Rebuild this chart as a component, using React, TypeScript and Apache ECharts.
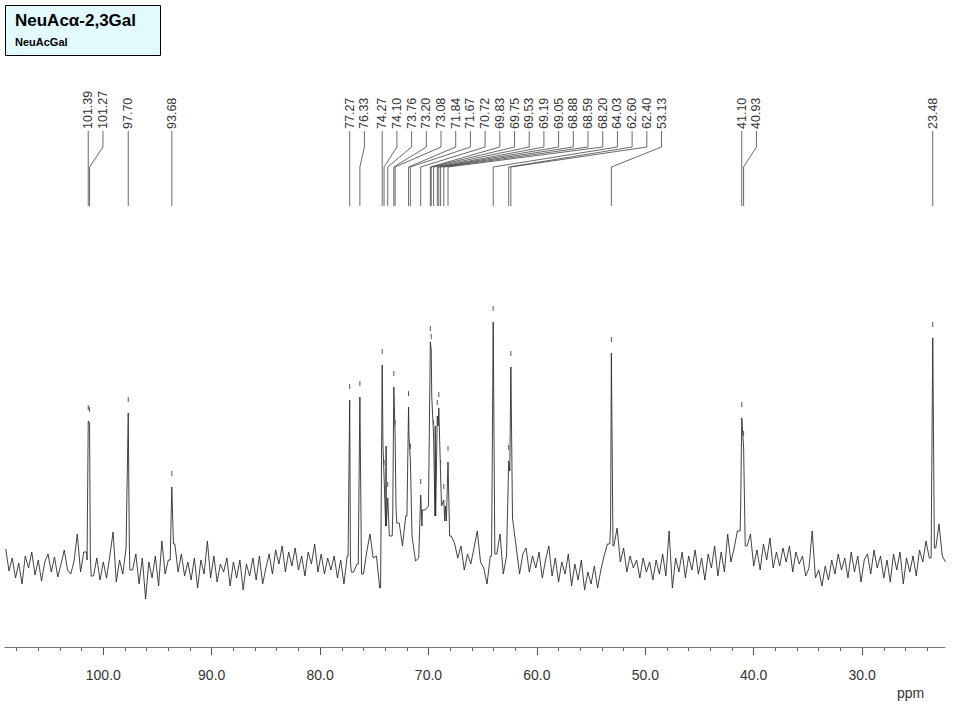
import React, { useRef, useEffect } from 'react';
import * as echarts from 'echarts';

// picked peaks: shift (ppm) and height above the baseline
const PEAK_PPM = [
  101.39, 101.27, 97.70, 93.68, 77.27, 76.33, 74.27, 74.10, 73.76, 73.20,
  73.08, 71.84, 71.67, 70.72, 69.83, 69.75, 69.53, 69.19, 69.05, 68.88,
  68.59, 68.20, 64.03, 62.60, 62.40, 53.13, 41.10, 40.93, 23.48,
];
const PEAK_HEIGHT = [
  145, 143, 153, 79, 166, 169, 201, 90, 68, 179,
  130, 159, 106, 71, 224, 216, 130, 150, 158, 90,
  66, 104, 244, 105, 199, 213, 148, 119, 228,
];

// baseline trace, one value every 0.3 ppm from 109.0 ppm downwards
const NOISE_START = 109.0;
const NOISE_STEP = 0.3;
const NOISE = [
  17, -5, 8, -12, 3, -18, 10, -2, 14, -9, 6, -15, 4, 12, -6, 9, -11, 2, 16, -4,
  -8, 5, 32, -6, 14, 6, 12, -10, 8, -14, 4, -12, 10, 34, -16, 6, -8, 18, 20, -4,
  12, -18, 8, -33, 4, -12, 10, -20, 25, -8, 6, 10, 22, -6, 12, -10, 4, -14, 8, -22,
  6, -8, 25, -12, 10, -16, 2, -6, 8, -20, 4, -12, 6, -24, 2, -10, 8, -14, 10, -18,
  -2, 12, -8, 16, 2, 20, -6, 14, 0, 18, -4, 10, -10, 14, 2, 22, -6, 12, -8, 8,
  -4, 10, -12, 6, -18, 10, 4, -6, 2, 8, -8, 14, 32, 8, 10, -22, 120, 40, 30, 50,
  60, 43, 20, 50, 130, 30, 5, 8, 40, 56, 60, 170, 50, 140, 60, 45, 60, 30, 23, 8,
  20, -4, 12, 2, 18, 35, 4, -2, -18, 10, 30, 12, 32, -8, 10, 95, 48, 18, -8, 12,
  18, -6, 10, -2, 14, -12, 6, 20, -10, 8, -16, 4, -8, 12, -20, 2, -14, 6, -24, -6,
  -18, 0, -22, -4, 10, 22, 40, 20, 38, 4, 18, -6, 10, -2, 6, -12, 8, -6, 4, -14,
  6, -8, 12, -10, 35, -22, 8, -6, 14, -12, 10, -4, 16, -8, 8, -14, 12, -2, 20, -10,
  14, -6, 32, 4, 18, 35, 60, 60, 20, 32, 0, 16, -4, 22, 6, 28, -2, 14, 0, 18,
  4, 20, -6, 14, 2, 10, -10, -2, 35, -12, -4, -20, 0, -14, 6, -8, 12, -4, 8, -12,
  14, -6, 10, -16, 6, 12, -8, 16, -2, 10, -12, 6, -16, 12, -4, 14, -18, 8, -6, 10,
  -10, 16, 4, 25, 8, 30, 18, 42, 10, 4,
];

const MAJOR_TICKS = [30, 40, 50, 60, 70, 80, 90, 100];
const MINOR_TICKS = [
  24, 26, 28, 32, 34, 36, 38, 42, 44, 46, 48, 52, 54, 56, 58, 62, 64, 66, 68,
  72, 74, 76, 78, 82, 84, 86, 88, 92, 94, 96, 98, 102, 104, 106, 108,
];

const X_MIN = 22.35;
const X_MAX = 109.07;
const FONT = 'Liberation Sans, Arial, sans-serif';
const LABEL_GAP = 14.7;
const FOOT = 0.15; // half width of a line at its base, ppm

function buildSpectrum() {
  const pts: number[][] = [];
  NOISE.forEach((v, i) => {
    const ppm = +(NOISE_START - i * NOISE_STEP).toFixed(2);
    if (PEAK_PPM.some((p) => Math.abs(p - ppm) < 0.04)) return;
    pts.push([ppm, v]);
  });
  PEAK_PPM.forEach((p, i) => {
    pts.push([p, PEAK_HEIGHT[i]]);
    // narrow foot on each free side, level with the nearest baseline sample outside it
    [1, -1].forEach((dir) => {
      if (PEAK_PPM.some((q) => q !== p && (q - p) * dir > 0 && (q - p) * dir <= 0.3)) return;
      const fp = p + dir * FOOT;
      const pos = (NOISE_START - fp) / NOISE_STEP;
      const idx = dir > 0 ? Math.floor(pos) : Math.ceil(pos);
      if (idx < 0 || idx >= NOISE.length) return;
      pts.push([fp, NOISE[idx]]);
    });
  });
  pts.sort((a, b) => b[0] - a[0]);
  return pts;
}

// peak-pick annotations: rotated labels, leader lines, small markers above each peak
function renderPeakLabels(_params: any, api: any) {
  const xs = PEAK_PPM.map((p) => api.coord([p, 0])[0]);
  const children: any[] = [];
  let prev = -Infinity;
  PEAK_PPM.forEach((p, i) => {
    const px = xs[i];
    const lx = Math.max(px, prev + LABEL_GAP);
    prev = lx;
    children.push({
      type: 'polyline',
      shape: { points: [[lx, 131], [lx, 147], [px, 167], [px, 206]] },
      style: { stroke: '#444', lineWidth: 0.8, fill: 'none' },
    });
    children.push({
      type: 'text',
      x: lx,
      y: 129,
      rotation: Math.PI / 2,
      style: {
        text: p.toFixed(2),
        fill: '#333',
        fontSize: 12.5,
        fontFamily: FONT,
        align: 'left',
        verticalAlign: 'middle',
      },
    });
    const top = api.coord([p, PEAK_HEIGHT[i]])[1];
    children.push({
      type: 'line',
      shape: { x1: px, y1: top - 16, x2: px, y2: top - 11 },
      style: { stroke: '#555', lineWidth: 1 },
    });
  });
  return { type: 'group', children };
}

const App: React.FC = () => {
  const chartRef = useRef<HTMLDivElement>(null);

  useEffect(() => {
    if (!chartRef.current) return;
    const chart = echarts.init(chartRef.current, null, { renderer: 'svg' });

    chart.setOption({
      animation: false,
      grid: { left: 5, right: 15, top: 206, bottom: 73, containLabel: false, outerBoundsMode: 'none' },
      xAxis: [
        {
          type: 'value',
          min: X_MIN,
          max: X_MAX,
          inverse: true,
          position: 'bottom',
          axisLine: { show: true, onZero: false, lineStyle: { color: '#777', width: 1 } },
          axisTick: { show: true, customValues: MAJOR_TICKS, length: 8, lineStyle: { color: '#555' } },
          axisLabel: {
            customValues: MAJOR_TICKS,
            formatter: (v: number) => v.toFixed(1),
            margin: 21,
            fontSize: 14,
            fontFamily: FONT,
            color: '#333',
          },
          splitLine: { show: false },
        },
        {
          type: 'value',
          min: X_MIN,
          max: X_MAX,
          inverse: true,
          position: 'bottom',
          axisLine: { show: false, onZero: false },
          axisTick: { show: true, customValues: MINOR_TICKS, length: 4, lineStyle: { color: '#666' } },
          axisLabel: { show: false },
          splitLine: { show: false },
        },
      ],
      yAxis: { type: 'value', min: -81, max: 360, show: false },
      series: [
        {
          type: 'line',
          data: buildSpectrum(),
          showSymbol: false,
          symbol: 'none',
          lineStyle: { color: '#2e2e2e', width: 0.9 },
          silent: true,
          z: 2,
        },
        {
          type: 'custom',
          data: [[60, 0]],
          renderItem: renderPeakLabels,
          silent: true,
          clip: false,
          z: 3,
        },
      ],
      graphic: [
        {
          type: 'rect',
          shape: { x: 5.5, y: 5.5, width: 155, height: 50 },
          style: { fill: '#e2fafd', stroke: '#000', lineWidth: 1 },
        },
        {
          type: 'text',
          x: 15,
          y: 12,
          style: { text: 'NeuAcα-2,3Gal', fill: '#000', fontSize: 17, fontWeight: 'bold', fontFamily: FONT, verticalAlign: 'top' },
        },
        {
          type: 'text',
          x: 15,
          y: 36,
          style: { text: 'NeuAcGal', fill: '#000', fontSize: 11, fontWeight: 'bold', fontFamily: FONT, verticalAlign: 'top' },
        },
        {
          type: 'text',
          x: 897,
          y: 686,
          style: { text: 'ppm', fill: '#333', fontSize: 14, fontFamily: FONT, verticalAlign: 'top' },
        },
      ],
    });

    return () => { chart.dispose(); };
  }, []);

  return (
    <div
      ref={chartRef}
      style={{ position: 'absolute', left: 0, top: 0, width: 960, height: 720, background: '#fff' }}
    />
  );
};

export default App;
